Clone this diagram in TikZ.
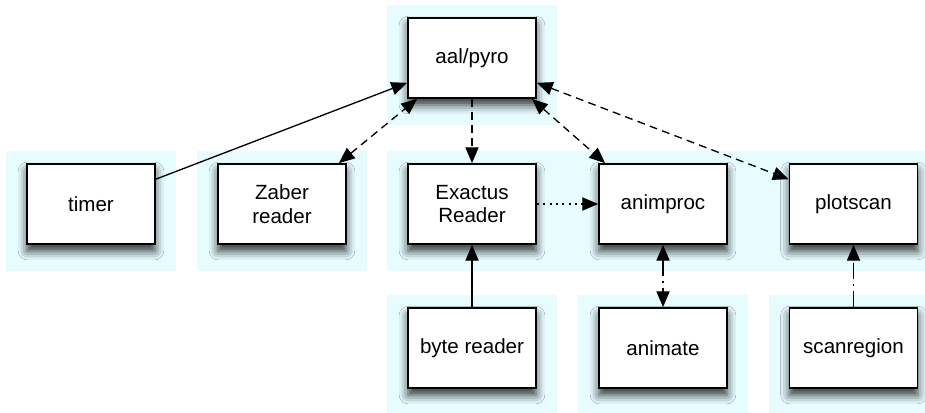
\documentclass[tikz,border=0pt]{standalone}
\usepackage{fontspec}
\setmainfont{Liberation Sans}
\usepackage{tikz}
\usetikzlibrary{arrows.meta, fit, backgrounds, shadows.blur}
\tikzset{>={Triangle[length=9pt,width=7.5pt]}}
\definecolor{pcyan}{RGB}{230, 252, 255}

\begin{document}
\begin{tikzpicture}[
    proc/.style={rectangle,draw=black,fill=white,line width=1pt,
      minimum width=2.56cm,minimum height=1.6cm,align=center,
      font=\fontsize{11.7}{13.5}\selectfont,
      blur shadow={shadow xshift=0pt,shadow yshift=-4pt,shadow blur radius=5pt,
        shadow opacity=80}},
    group/.style={fill=pcyan,inner xsep=0.4cm,inner ysep=0.38cm,yshift=-0.14cm},
    link/.style={->,line width=0.75pt},
    ask/.style={dash pattern=on 4.5pt off 3pt},
    feed/.style={dash pattern=on 1.2pt off 2.4pt},
    poll/.style={dash pattern=on 9pt off 3pt on 1pt off 3pt}
  ]

  \useasboundingbox (0,0) rectangle (18.5,-8.26);

    % top level
    \node[proc] (pyro) at (9.44,-1.16) {aal/pyro};

    % middle row
    \node[proc] (timer)    at (1.82,-4.08)  {timer};
    \node[proc] (zaber)    at (5.64,-4.08)  {Zaber\\reader};
    \node[proc] (exactus)  at (9.44,-4.08)  {Exactus\\Reader};
    \node[proc] (animproc) at (13.26,-4.08) {animproc};
    \node[proc] (plotscan) at (17.07,-4.08) {plotscan};

    % bottom row
    \node[proc] (byte)       at (9.44,-6.96)  {byte reader};
    \node[proc] (animate)    at (13.26,-6.96) {animate};
    \node[proc] (scanregion) at (17.07,-6.96) {scanregion};

    % light panels behind the boxes
    \begin{scope}[on background layer]
      \foreach \a/\b in {pyro/pyro, timer/timer, zaber/zaber, exactus/plotscan,
                         byte/byte, animate/animate, scanregion/scanregion}
        \node[group, fit=(\a)(\b)] {};
    \end{scope}

    \draw[link] (timer) -- (pyro);
    \draw[link,<->,ask] ([xshift=-0.16cm]zaber.north east) -- ([xshift=0.2cm]pyro.south west);
    \draw[link,ask] (pyro) -- (exactus);
    \draw[link,<->,ask] ([xshift=-0.1cm]pyro.south east) -- ([xshift=0.14cm]animproc.north west);
    \draw[link,<->,ask] (pyro) -- (plotscan);

    \draw[link,feed] (exactus) -- (animproc);
    \draw[link] (byte) -- (exactus);
    \draw[link,<->,poll] (animproc) -- (animate);
    \draw[link,poll] (scanregion) -- (plotscan);

\end{tikzpicture}
\end{document}
